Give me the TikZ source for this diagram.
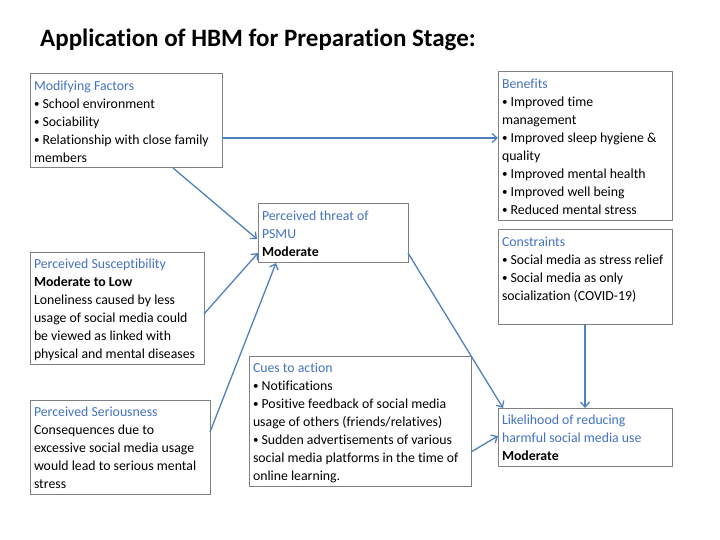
\documentclass[tikz,border=0pt]{standalone}
\usepackage{fontspec}
\setmainfont{Carlito}[Ligatures={NoCommon}]
\usetikzlibrary{arrows.meta,calc}
\definecolor{hbmblue}{RGB}{68,114,196}
\definecolor{arrblue}{RGB}{79,129,189}
\definecolor{boxgray}{RGB}{128,128,128}
\tikzset{
  frame/.style={draw=boxgray,line width=1pt,inner sep=0pt,outer sep=0pt,anchor=north west,fill=white},
  txt/.style={inner sep=0pt,outer sep=0pt,anchor=north west,align=left,font=\fontsize{13.8}{18}\selectfont},
  conn/.style={draw=arrblue,line width=1.3pt,-{Straight Barb[length=5pt,width=9pt]}},
}
\newcommand{\hd}[1]{\textcolor{hbmblue}{#1}}
\newcommand{\bul}{\raisebox{0.05em}{\scalebox{0.8}{•}}}
\begin{document}
\begin{tikzpicture}[x=1pt,y=-1pt]
\useasboundingbox (0,0) rectangle (720,540);
\fill[white] (0,0) rectangle (720,540);
\node[inner sep=0pt,anchor=base west,font=\fontsize{25}{30}\selectfont\bfseries] (title) at (40,46.5) {Application of HBM for Preparation Stage:};

\node[frame,minimum width=192pt,minimum height=94pt] (mf) at (30,74) {};
\node[frame,minimum width=150pt,minimum height=58pt] (pt) at (258,204) {};
\node[frame,minimum width=174pt,minimum height=112pt] (ps) at (30,252) {};
\node[frame,minimum width=180pt,minimum height=94pt] (pse) at (30,400) {};
\node[frame,minimum width=222pt,minimum height=130pt] (cue) at (249,356) {};
\node[frame,minimum width=174pt,minimum height=149pt] (ben) at (498,72) {};
\node[frame,minimum width=174pt,minimum height=94pt] (con) at (498,230) {};
\node[frame,minimum width=174pt,minimum height=58pt] (lik) at (498,408) {};

\node[txt] (mft) at ($(mf.north west)+(4,3.6)$) {\strut\hd{Modifying Factors}\\\bul{} School environment\\\bul{} Sociability\\\bul{} Relationship with close family\\members};
\node[txt] (ptt) at ($(pt.north west)+(4,3.6)$) {\strut\hd{Perceived threat of}\\\hd{PSMU}\\\textbf{Moderate}};
\node[txt] (pst) at ($(ps.north west)+(4,3.6)$) {\strut\hd{Perceived Susceptibility}\\\textbf{Moderate to Low}\\Loneliness caused by less\\usage of social media could\\be viewed as linked with\\physical and mental diseases};
\node[txt] (pset) at ($(pse.north west)+(4,3.6)$) {\strut\hd{Perceived Seriousness}\\Consequences due to\\excessive social media usage\\would lead to serious mental\\stress};
\node[txt] (cuet) at ($(cue.north west)+(4,3.6)$) {\strut\hd{Cues to action}\\\bul{} Notifications\\\bul{} Positive feedback of social media\\usage of others (friends/relatives)\\\bul{} Sudden advertisements of various\\social media platforms in the time of\\online learning.};
\node[txt] (bent) at ($(ben.north west)+(4,3.6)$) {\strut\hd{Benefits}\\\bul{} Improved time\\management\\\bul{} Improved sleep hygiene \&\\quality\\\bul{} Improved mental health\\\bul{} Improved well being\\\bul{} Reduced mental stress};
\node[txt] (cont) at ($(con.north west)+(4,3.6)$) {\strut\hd{Constraints}\\\bul{} Social media as stress relief\\\bul{} Social media as only\\socialization (COVID-19)};
\node[txt] (likt) at ($(lik.north west)+(4,3.6)$) {\strut\hd{Likelihood of reducing}\\\hd{harmful social media use}\\\textbf{Moderate}};

\coordinate (mfa) at ($(mf.north east)+(0,64)$);
\draw[conn] (mfa) -- (mfa -| ben.west);
\draw[conn] ($(mf.south west)!0.745!(mf.south east)$) -- ($(pt.north west)+(-1,35)$);
\draw[conn] ($(ps.north east)+(0,62)$) -- ($(pt.north west)+(0,49)$);
\draw[conn] ($(pse.north east)+(0,32)$) -- ($(pt.south west)+(18,1)$);
\draw[conn] ($(pt.north east)+(0,49)$) -- ($(lik.north west)+(5,0)$);
\draw[conn] (con.south) -- (lik.north);
\draw[conn] ($(cue.north east)+(0,96)$) -- ($(lik.north west)+(0,28)$);
\end{tikzpicture}
\end{document}
